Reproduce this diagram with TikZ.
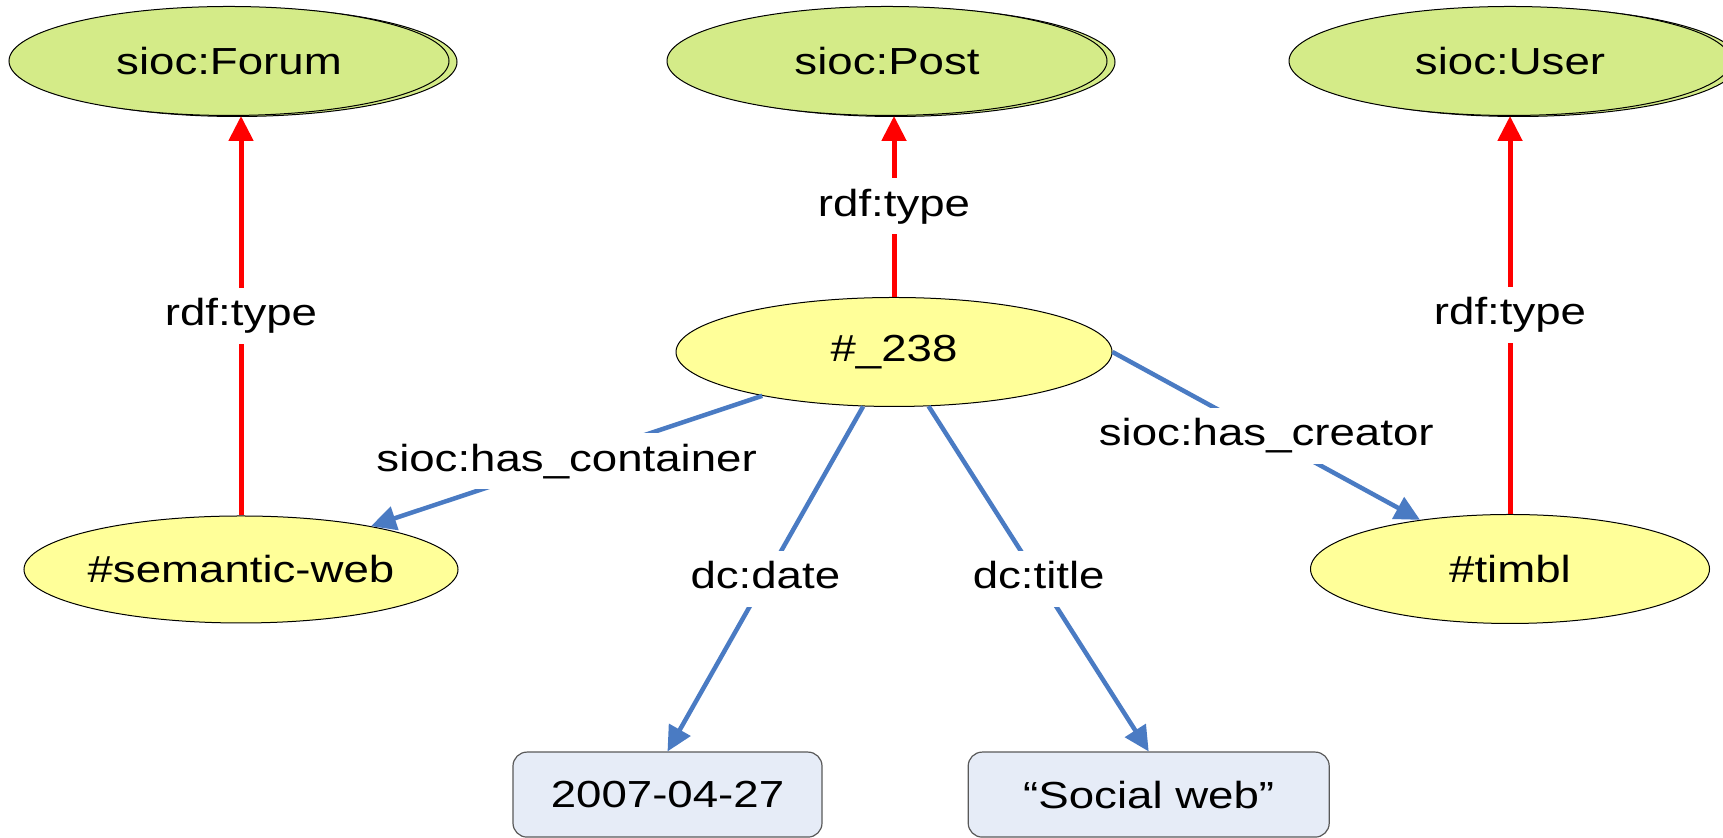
\documentclass[tikz,border=0pt]{standalone}
\usepackage{fontspec}
\setmainfont{Liberation Sans}[FakeStretch=1.21]
\usetikzlibrary{shapes,arrows.meta,positioning,shadows}

\definecolor{clsgreen}{HTML}{D4EB88}
\definecolor{resyellow}{HTML}{FFFF99}
\definecolor{litblue}{HTML}{E6ECF7}
\definecolor{propblue}{HTML}{4A7BC3}

\begin{document}
\begin{tikzpicture}[
    x=0.5pt, y=0.5pt,
    font=\fontsize{18.85pt}{22pt}\selectfont,
    res/.style={ellipse, draw, line width=0.5pt, fill=resyellow, inner sep=0pt, minimum height=54.5pt},
    cls/.style={res, fill=clsgreen, minimum width=220pt, general shadow={shadow xshift=4pt, shadow yshift=-0.5pt, fill=clsgreen, draw=black, line width=0.5pt}},
    lit/.style={rectangle, draw=black!65, line width=0.6pt, rounded corners=7pt, fill=litblue, minimum height=42.5pt, inner sep=0pt},
    lbl/.style={fill=white, text=black, inner xsep=2pt, inner ysep=5pt, text height=14pt, text depth=4pt},
    typeedge/.style={red, line width=2.5pt, -{Triangle[length=12.5pt, width=12pt]}},
    propedge/.style={propblue, line width=2.25pt, -{Triangle[length=12.5pt, width=12pt]}},
]
    \useasboundingbox (0,0) rectangle (1723,838);

    % resources and classes
    \node[res, minimum width=218pt] (n238) at (894,486) {\#\_238};
    \node[cls, above=90.5pt of n238, xshift=-3.5pt] (post) {sioc:Post};
    \node[cls, left=108.5pt of post] (forum) {sioc:Forum};
    \node[cls, right=90.5pt of post, minimum width=221pt] (user) {sioc:User};
    \node[res, minimum width=217pt, minimum height=53.5pt, below=199.75pt of forum, xshift=6pt] (semweb) {\#semantic-web};
    \node[res, minimum width=199.5pt, below=199pt of user] (timbl) {\#timbl};

    % literals
    \node[lit, minimum width=154.5pt, below=172.25pt of n238, xshift=-113.25pt] (date) {2007-04-27};
    \node[lit, minimum width=180.5pt, right=72.5pt of date] (title) {“Social web”};

    % rdf:type
    \draw[typeedge] (semweb.north) -- (semweb.north |- forum.south) node[lbl, midway] {rdf:type};
    \draw[typeedge] (n238.north) -- (n238.north |- post.south) node[lbl, midway] {rdf:type};
    \draw[typeedge] (timbl.north) -- (timbl.north |- user.south) node[lbl, midway] {rdf:type};

    % properties
    \draw[propedge] (n238) -- (semweb) node[lbl, midway] {sioc:has\_container};
    \draw[propedge] (n238.east) -- (timbl) node[lbl, midway] {sioc:has\_creator};
    \draw[propedge] (n238) -- (date.north) node[lbl, midway] {dc:date};
    \draw[propedge] (n238) -- (title.north) node[lbl, midway] {dc:title};
\end{tikzpicture}
\end{document}
